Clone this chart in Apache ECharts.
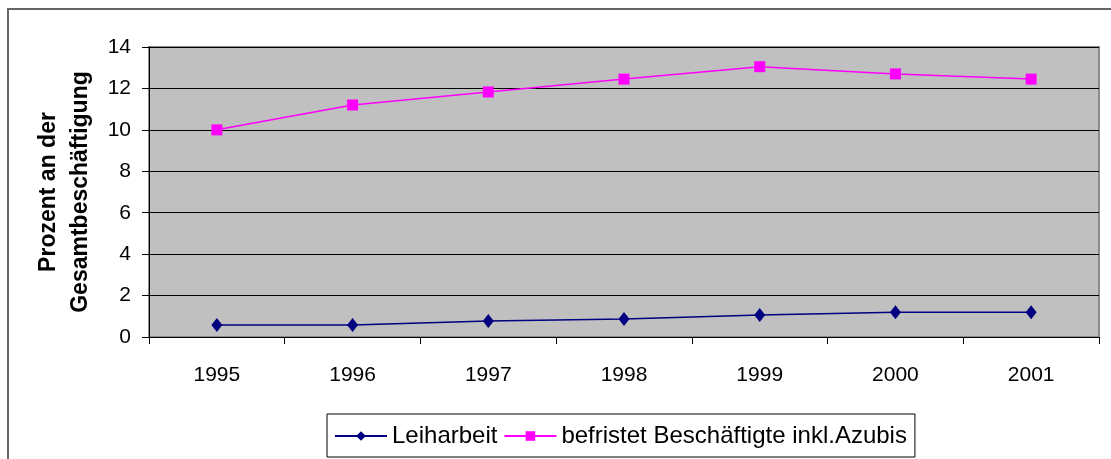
<!DOCTYPE html>
<html lang="de">
<head>
    <meta charset="utf-8">
    <title>Leiharbeit und befristete Beschäftigung</title>
    <style>
        body { margin: 0; overflow: hidden; background: #fff; }
    </style>
</head>
<body>
	<div id="chart-container" style="width: 1111px; height: 459px;"></div>

	<script type="text/javascript" src="https://cdn.jsdelivr.net/npm/echarts@6/dist/echarts.min.js"></script>
	<script type="text/javascript">
		// Daten
		var years = ['1995', '1996', '1997', '1998', '1999', '2000', '2001'];
		var leiharbeit = [0.58, 0.58, 0.77, 0.87, 1.06, 1.2, 1.2];
		var befristet = [10.0, 11.2, 11.83, 12.45, 13.05, 12.7, 12.45];

		var font = 'Liberation Sans, Arial, sans-serif';
		var myChart = echarts.init(document.getElementById('chart-container'));

		var option = {
			animation: false,
			textStyle: { fontFamily: font },
			grid: {
				left: 149, right: 12, top: 47, bottom: 122,
				show: true,
				backgroundColor: '#c0c0c0',
				borderColor: '#8c8c8c',
				borderWidth: 2
			},
			// äußerer Rahmen
			graphic: [{
				type: 'rect',
				shape: { x: 8, y: 9, width: 1200, height: 500 },
				style: { fill: 'none', stroke: '#666', lineWidth: 2 },
				silent: true
			}],
			legend: {
				left: 327, top: 414,
				padding: [10, 8, 9, 7],
				itemGap: 6,
				itemWidth: 52, itemHeight: 12,
				borderColor: '#000', borderWidth: 1,
				textStyle: { fontSize: 24, color: '#000', fontFamily: font },
				data: ['Leiharbeit', 'befristet Beschäftigte inkl.Azubis']
			},
			xAxis: {
				type: 'category',
				data: years,
				boundaryGap: true,
				axisLine: { lineStyle: { color: '#000', width: 1 } },
				axisTick: { show: true, length: 7, lineStyle: { color: '#000' } },
				axisLabel: { color: '#000', fontSize: 21, margin: 28 }
			},
			yAxis: {
				type: 'value',
				min: 0, max: 14, interval: 2,
				name: 'Prozent an der\nGesamtbeschäftigung',
				nameLocation: 'middle',
				nameRotate: 90,
				nameGap: 52,
				nameTextStyle: { fontSize: 23, fontWeight: 'bold', color: '#000', lineHeight: 32, fontFamily: font },
				axisLine: { show: true, lineStyle: { color: '#000' } },
				axisTick: { show: true, length: 7, lineStyle: { color: '#000' } },
				axisLabel: { color: '#000', fontSize: 21, margin: 18 },
				splitLine: { lineStyle: { color: '#000', width: 1 } }
			},
			series: [
				{
					name: 'Leiharbeit',
					type: 'line',
					data: leiharbeit,
					symbol: 'diamond',
					symbolSize: [11, 14],
					color: '#000080',
					lineStyle: { color: '#000080', width: 1.5 },
					itemStyle: { color: '#000080' }
				},
				{
					name: 'befristet Beschäftigte inkl.Azubis',
					type: 'line',
					data: befristet,
					symbol: 'rect',
					symbolSize: 11,
					color: '#ff00ff',
					lineStyle: { color: '#ff00ff', width: 1.5 },
					itemStyle: { color: '#ff00ff' }
				}
			]
		};

		myChart.setOption(option);
	</script>
</body>
</html>
